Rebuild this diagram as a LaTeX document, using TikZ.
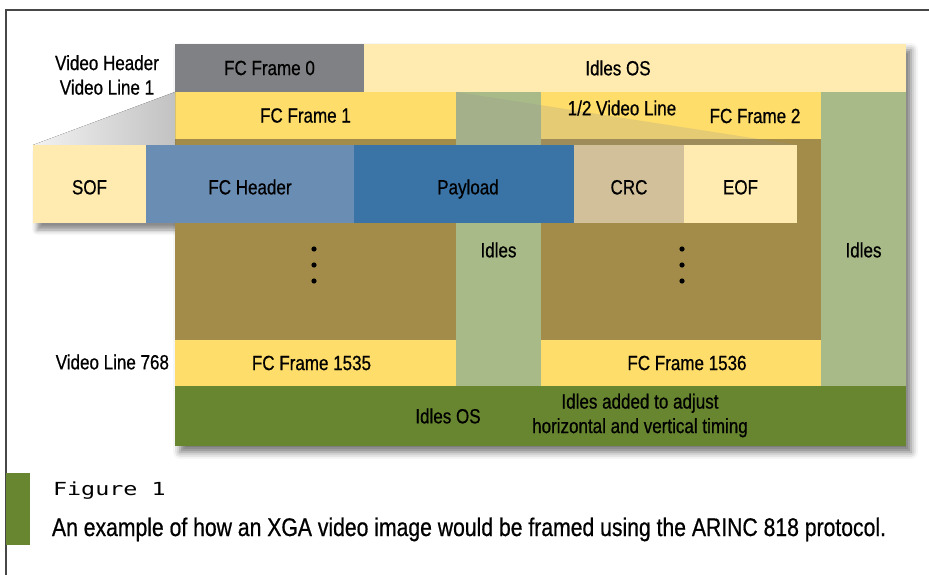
\documentclass[tikz,border=0pt]{standalone}
\usepackage{fontspec}
\setmainfont{Liberation Sans}[FakeStretch=0.83, FakeBold=0.6]
\newfontfamily\figmono{DejaVu Sans Mono}[FakeStretch=1.3]
\usetikzlibrary{positioning,calc,backgrounds,shadows.blur}

\definecolor{fcgray}{HTML}{808184}
\definecolor{idlelight}{HTML}{FFEBB0}
\definecolor{fcyellow}{HTML}{FFDD6A}
\definecolor{idlegreen}{HTML}{A9BA89}
\definecolor{linebrown}{HTML}{A38B4A}
\definecolor{osgreen}{HTML}{67862F}
\definecolor{hdrblue}{HTML}{6A8DB4}
\definecolor{payblue}{HTML}{3A74A6}
\definecolor{crctan}{HTML}{D1C09A}
\definecolor{wedgegray}{HTML}{919191}

\newcommand\lbl{\fontsize{20.5}{24.5}\selectfont}
\newcommand\caplbl{\fontsize{25.5}{30}\selectfont}

\begin{document}
\begin{tikzpicture}[x=1pt, y=-1pt,
  cell/.style={inner sep=0pt, outer sep=0pt, font=\lbl},
  pkt/.style={cell, minimum height=78pt, text height=20.7pt, text depth=0pt},
  soft/.style={blur shadow={shadow xshift=5pt, shadow yshift=-6pt, shadow blur radius=7pt, shadow opacity=55}}]
\useasboundingbox (0,0) rectangle (929,575);

% page frame
\draw[line width=1.4pt, black!72] (6,575) -- (6,10) -- (929,10);

% video frame grid
\node[cell, fill=fcgray, minimum width=189pt, minimum height=48pt, anchor=north west] (fr0) at (175,44) {FC Frame 0};
\node[cell, fill=idlelight, minimum width=542pt, minimum height=48pt, right=0pt of fr0] (idtop) {};
\node[cell] at ($(idtop.center)+(-17,0)$) {Idles OS};

\node[cell, fill=fcyellow, minimum width=281pt, minimum height=47pt, anchor=north west] (fr1) at (fr0.south west) {};
\node[cell, fill=linebrown, minimum width=281pt, minimum height=201pt, below=0pt of fr1] (br1) {};
\node[cell, fill=fcyellow, minimum width=281pt, minimum height=46pt, below=0pt of br1] (fr1535) {};
\node[cell] at ($(fr1535.center)+(-4,0)$) {FC Frame 1535};

\node[cell, fill=idlegreen, minimum width=85pt, minimum height=294pt, anchor=north west] (gr1) at (fr1.north east) {};
\node[cell] at ($(gr1.center)+(0,11)$) {Idles};

\node[cell, fill=fcyellow, minimum width=280pt, minimum height=47pt, anchor=north west] (fr2) at (gr1.north east) {};
\node[cell, fill=linebrown, minimum width=280pt, minimum height=201pt, below=0pt of fr2] (br2) {};
\node[cell, fill=fcyellow, minimum width=280pt, minimum height=46pt, below=0pt of br2] (fr1536) {};
\node[cell] at ($(fr1536.center)+(6,0)$) {FC Frame 1536};

\node[cell, fill=idlegreen, minimum width=85pt, minimum height=294pt, anchor=north west] (gr2) at (fr2.north east) {};
\node[cell] at ($(gr2.center)+(0,11)$) {Idles};

\node[cell, fill=osgreen, minimum width=731pt, minimum height=60pt, anchor=north west] (osbot) at (fr1535.south west) {};
\node[cell] at (448,416) {Idles OS};
\node[cell, align=center] at (640,415.5) {Idles added to adjust\\horizontal and vertical timing};

\begin{scope}[on background layer]
  \fill[white, soft] (fr0.north west) rectangle (osbot.south east);
\end{scope}

% lines 2..767 left out
\foreach \yy in {249,265,281} {
  \fill (314,\yy) circle (2.6);
  \fill (682,\yy) circle (2.6);
}

% one FC frame blown up
\node[pkt, fill=idlelight, minimum width=113pt, anchor=north west] (sof) at (33,145) {SOF};
\node[pkt, fill=hdrblue, minimum width=208pt, right=0pt of sof] (hdr) {FC Header};
\node[pkt, fill=payblue, minimum width=220pt, right=0pt of hdr] (pay) {};
\node[cell] at ($(pay.center)+(4,5)$) {Payload};
\node[pkt, fill=crctan, minimum width=110pt, right=0pt of pay] (crc) {CRC};
\node[pkt, fill=idlelight, minimum width=113pt, right=0pt of crc] (eof) {EOF};
\begin{scope}[on background layer]
  \fill[white, blur shadow={shadow xshift=4pt, shadow yshift=-7pt, shadow blur radius=5pt, shadow opacity=45}] (sof.north west) rectangle (eof.south east);
\end{scope}

% zoom wedge from line 1 to the frame
\fill[left color=black!5, right color=black!24] (sof.north west) -- (fr1.north west) -- (fr1.west |- sof.north) -- cycle;
\fill[wedgegray, opacity=0.235] (gr1.north west) -- (eof.north east) -- (gr1.west |- eof.north) -- cycle;
\node[cell] at ($(fr1.center)+(-10,0)$) {FC Frame 1};
\node[cell] at (622,108) {1/2 Video Line};
\node[cell] at (755,116) {FC Frame 2};

% row labels
\node[cell, align=center] (vhdr) at (107,75) {Video Header\\Video Line 1};
\node[cell, anchor=east] (v768) at (169,362) {Video Line 768};

% caption
\node[cell, fill=osgreen, minimum width=24pt, minimum height=72pt, anchor=north west] (bar) at (6,473) {};
\node[cell, font=\figmono\fontsize{18}{22}\selectfont, anchor=base west] (fig) at (53,495) {Figure 1};
\node[cell, font=\caplbl, anchor=base west] (cap) at (52,536) {An example of how an XGA video image would be framed using the ARINC 818 protocol.};
\end{tikzpicture}
\end{document}
